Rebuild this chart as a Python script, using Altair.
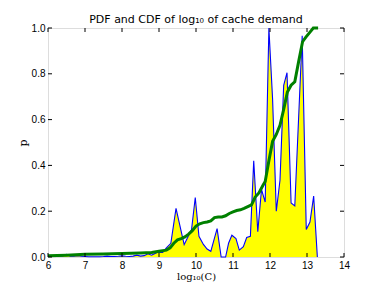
import altair as alt
import pandas as pd

pdf_x = [6.0, 6.1, 6.2, 6.3, 6.4, 6.5, 6.6, 6.7, 6.8, 6.9, 7.0, 7.1, 7.2, 7.3, 7.4, 7.5,
         7.6, 7.7, 7.8, 7.9, 8.0, 8.1, 8.2, 8.3, 8.4, 8.5, 8.6, 8.7, 8.8, 8.95, 9.1, 9.2,
         9.32, 9.46, 9.68, 9.82, 9.88, 9.98, 10.08, 10.2, 10.3, 10.4, 10.57, 10.68, 10.8,
         10.88, 10.97, 11.08, 11.17, 11.28, 11.37, 11.47, 11.56, 11.67, 11.77, 11.87, 11.97,
         12.07, 12.17, 12.27, 12.37, 12.46, 12.57, 12.67, 12.87, 12.98, 13.08, 13.18, 13.28]
pdf_y = [0.005, 0.004, 0.003, 0.003, 0.005, 0.012, 0.004, 0.003, 0.006, 0.003, 0.002, 0.001,
         0.001, 0.001, 0.001, 0.002, 0.004, 0.002, 0.002, 0.003, 0.005, 0.003, 0.002, 0.004,
         0.008, 0.004, 0.006, 0.014, 0.008, 0.02, 0.02, 0.04, 0.06, 0.212, 0.054, 0.1, 0.12,
         0.26, 0.09, 0.055, 0.035, 0.025, 0.124, 0.0, 0.0, 0.06, 0.095, 0.08, 0.03, 0.045,
         0.085, 0.09, 0.42, 0.11, 0.295, 0.24, 1.0, 0.69, 0.2, 0.335, 0.75, 0.805, 0.236,
         0.223, 0.966, 0.12, 0.153, 0.266, 0.0]

cdf_x = [6.0, 6.5, 7.0, 7.5, 8.0, 8.5, 8.8, 9.0, 9.2, 9.3, 9.4, 9.5, 9.6, 9.7, 9.8, 9.9,
         10.0, 10.1, 10.2, 10.3, 10.4, 10.5, 10.6, 10.7, 10.8, 10.9, 11.0, 11.1, 11.2, 11.3,
         11.4, 11.5, 11.6, 11.7, 11.8, 11.87, 11.97, 12.07, 12.17, 12.27, 12.37, 12.47,
         12.57, 12.67, 12.77, 12.88, 12.97, 13.07, 13.17, 13.3]
cdf_y = [0.005, 0.008, 0.012, 0.013, 0.015, 0.018, 0.02, 0.025, 0.03, 0.04, 0.06, 0.075,
         0.08, 0.088, 0.1, 0.115, 0.135, 0.145, 0.15, 0.153, 0.158, 0.172, 0.175, 0.175,
         0.18, 0.19, 0.197, 0.203, 0.206, 0.212, 0.22, 0.228, 0.262, 0.28, 0.31, 0.33,
         0.42, 0.505, 0.535, 0.575, 0.645, 0.72, 0.75, 0.765, 0.85, 0.94, 0.96, 0.98, 1.0, 1.0]

x_ticks = [6, 7, 8, 9, 10, 11, 12, 13, 14]
y_ticks = [0.0, 0.2, 0.4, 0.6, 0.8, 1.0]

W, H = 296, 229
T = 4

pdf = pd.DataFrame({"x": pdf_x, "y": pdf_y})
cdf = pd.DataFrame({"x": cdf_x, "y": cdf_y})
xt = pd.DataFrame({"x": x_ticks})
yt = pd.DataFrame({"y": y_ticks})

xs = alt.Scale(domain=[6, 14], nice=False, zero=False)
ys = alt.Scale(domain=[0, 1], nice=False)

xaxis = alt.Axis(values=x_ticks, format="d", ticks=False, grid=False, domain=False,
                 labelPadding=3, labelOverlap=False, labelFlush=False,
                 title="log₁₀(C)", titleFont="DejaVu Serif",
                 titleFontWeight="normal", titleFontSize=10, titlePadding=1)
yaxis = alt.Axis(values=y_ticks, format=".1f", ticks=False, grid=False, domain=False,
                 labelPadding=3, labelOverlap=False, labelFlush=False,
                 title="p", titleFont="DejaVu Serif",
                 titleFontWeight="normal", titleFontSize=11, titlePadding=3)

X = alt.X("x:Q", scale=xs, axis=xaxis)
Y = alt.Y("y:Q", scale=ys, axis=yaxis)

area = alt.Chart(pdf).mark_area(color="#ffff00", opacity=1, interpolate="linear").encode(x=X, y=Y)
line = alt.Chart(pdf).mark_line(color="#0000ff", strokeWidth=1.1).encode(x=X, y=Y)
cline = alt.Chart(cdf).mark_line(color="#008000", strokeWidth=3).encode(x=X, y=Y)

tb = alt.Chart(xt).mark_rule(color="black", strokeWidth=1).encode(
    x=X, y=alt.value(H), y2=alt.value(H - T))
tt = alt.Chart(xt).mark_rule(color="black", strokeWidth=1).encode(
    x=X, y=alt.value(0), y2=alt.value(T))
tl = alt.Chart(yt).mark_rule(color="black", strokeWidth=1).encode(
    y=Y, x=alt.value(0), x2=alt.value(T))
tr = alt.Chart(yt).mark_rule(color="black", strokeWidth=1).encode(
    y=Y, x=alt.value(W - T), x2=alt.value(W))

chart = alt.layer(area, line, cline, tb, tt, tl, tr).properties(
    width=W, height=H,
    title=alt.TitleParams("PDF and CDF of log₁₀ of cache demand", font="DejaVu Sans",
                          fontSize=11, fontWeight="normal", color="black", offset=-3),
    autosize=alt.AutoSizeParams(type="none"),
    padding={"left": 40, "top": 20, "right": 30, "bottom": 29},
).configure_view(stroke="black", strokeWidth=1).configure_axis(
    labelFont="DejaVu Sans", labelFontSize=10, labelColor="black", titleColor="black"
).configure(background="white")

chart.save("out.html", embed_options={"renderer": "svg", "actions": False})
